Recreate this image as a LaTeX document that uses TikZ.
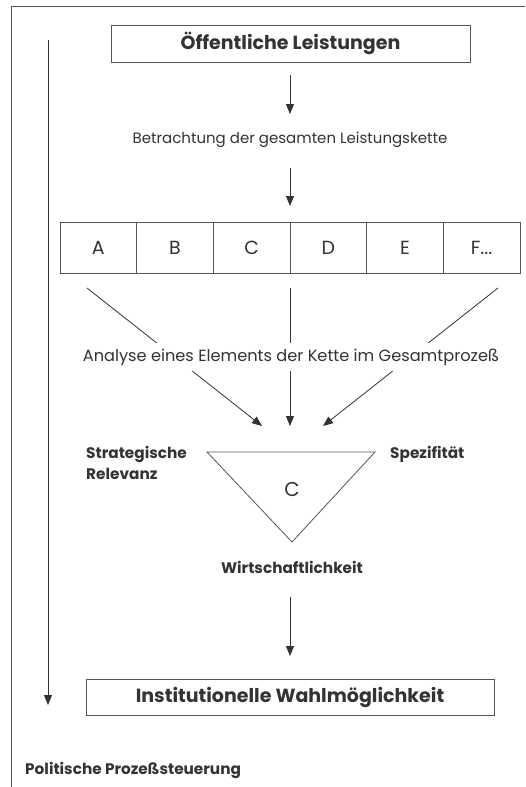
\documentclass[tikz,border=0pt]{standalone}
\usepackage{fontspec}
\setmainfont{Poppins}
\usetikzlibrary{arrows.meta}
\definecolor{ink}{HTML}{333333}
\definecolor{linec}{HTML}{555555}
\begin{document}
\begin{tikzpicture}[x=1pt,y=-1pt,
  box/.style={draw=linec,line width=0.9pt,inner sep=0pt,text=ink},
  cell/.style={draw=linec,line width=0.9pt,minimum width=76.67pt,minimum height=51pt,inner sep=0pt,font=\fontsize{19}{19}\selectfont,text=ink},
  lbl/.style={text=ink,inner sep=0pt},
  blbl/.style={text=ink,inner sep=0pt,font=\bfseries\fontsize{15.3}{21}\selectfont},
  conn/.style={draw=ink,line width=0.8pt,-{Triangle[length=10pt,width=8pt]}},
  plain/.style={draw=linec,line width=0.8pt}]
\useasboundingbox (0,0) rectangle (525,787);
\fill[white] (0,0) rectangle (525,787);
% frame
\draw[draw=linec,line width=1pt] (525,6) -- (11,6) -- (11,787);
% top box
\node[box,minimum width=359pt,minimum height=37pt,font=\bfseries\fontsize{19}{19}\selectfont] (top) at (290.5,43.5) {Öffentliche Leistungen};
\coordinate (a1s) at (290,75);
\coordinate (a1e) at (290,114);
\draw[conn] (a1s) -- (a1e);
\node[lbl,font=\fontsize{15}{16}\selectfont] (betr) at (290,140) {Betrachtung der gesamten Leistungskette};
\coordinate (a2s) at (290,168);
\coordinate (a2e) at (290,206);
\draw[conn] (a2s) -- (a2e);
% chain
\node[cell] (A) at (98.33,247.5) {A};
\node[cell] (B) at (175,247.5) {B};
\node[cell] (C) at (251.67,247.5) {C};
\node[cell] (D) at (328.33,247.5) {D};
\node[cell] (E) at (405,247.5) {E};
\node[cell] (F) at (481.67,247.5) {F.{}.{}.};
% converging arrows
\coordinate (l1) at (87,288);
\coordinate (l2) at (262,426);
\coordinate (c1) at (290,288);
\coordinate (c2) at (290,426);
\coordinate (r1) at (498,288);
\coordinate (r2) at (323,426);
\draw[conn] (l1) -- (l2);
\draw[conn] (c1) -- (c2);
\draw[conn] (r1) -- (r2);
\node[lbl,fill=white,inner ysep=6pt,inner xsep=1pt,font=\fontsize{16.2}{17}\selectfont] (ana) at (291,357) {Analyse eines Elements der Kette im Gesamtprozeß};
% triangle
\coordinate (t1) at (207,452);
\coordinate (t2) at (375,452);
\coordinate (t3) at (292,542);
\draw[plain] (t1) -- (t2) -- (t3) -- cycle;
\node[lbl,font=\fontsize{20}{20}\selectfont] (cc) at (292,489) {C};
\node[blbl,anchor=north west,align=left] (strat) at (86,446) {Strategische\\Relevanz};
\node[blbl,anchor=north west] (spez) at (390,446) {Spezifität};
\node[blbl] (wirt) at (292,567) {Wirtschaftlichkeit};
\coordinate (a3s) at (290,597);
\coordinate (a3e) at (290,656);
\draw[conn] (a3s) -- (a3e);
% bottom box
\node[box,minimum width=408pt,minimum height=36pt,font=\bfseries\fontsize{19}{19}\selectfont] (bot) at (290,697) {Institutionelle Wahlmöglichkeit};
% long arrow
\coordinate (ls) at (48,40);
\coordinate (le) at (48,705);
\draw[conn] (ls) -- (le);
\node[blbl,anchor=west] (pol) at (25,770) {Politische Prozeßsteuerung};
\end{tikzpicture}
\end{document}
